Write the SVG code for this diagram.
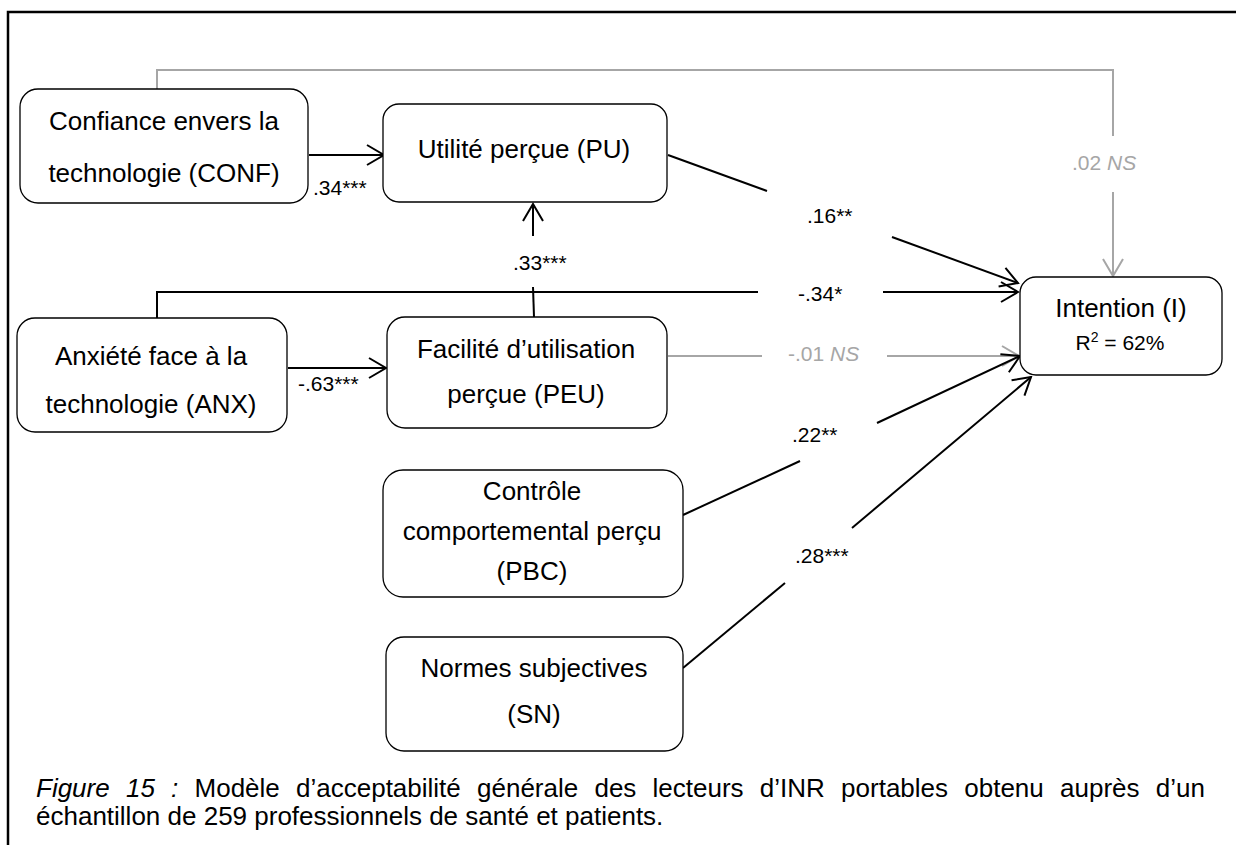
<svg xmlns="http://www.w3.org/2000/svg" width="1236" height="845" viewBox="0 0 1236 845">
<style>
.box{fill:#fff;stroke:#000;stroke-width:1.3}
.nt{font-family:"Liberation Sans",Arial,sans-serif;font-size:26px;fill:#000;text-anchor:middle}
.lb{font-family:"Liberation Sans",Arial,sans-serif;font-size:21px;fill:#000}
.lg{font-family:"Liberation Sans",Arial,sans-serif;font-size:21px;fill:#a6a6a6}
.cap{font-family:"Liberation Sans",Arial,sans-serif;font-size:26px;fill:#000}
.c{fill:none;stroke:#000;stroke-width:2}
.g{fill:none;stroke:#a6a6a6;stroke-width:2}
</style>
<defs>
<marker id="ab" markerUnits="userSpaceOnUse" viewBox="0 0 20 22" refX="18" refY="11" markerWidth="20" markerHeight="22" orient="auto">
<path d="M1,1 L18,11 L1,21" fill="none" stroke="#000" stroke-width="2"/>
</marker>
<marker id="ag" markerUnits="userSpaceOnUse" viewBox="0 0 20 22" refX="18" refY="11" markerWidth="20" markerHeight="22" orient="auto">
<path d="M1,1 L18,11 L1,21" fill="none" stroke="#a6a6a6" stroke-width="2"/>
</marker>
</defs>
<rect width="1236" height="845" fill="#fff"/>
<path d="M8,845 L8,12 L1236,12" fill="none" stroke="#000" stroke-width="2.5"/>

<g id="connectors">
<path class="g" d="M157,89 L157,70 L1113,70 L1113,136"/>
<path class="g" d="M1113,192 L1113,276" marker-end="url(#ag)"/>
<text class="lg" x="1072" y="170">.02 <tspan font-style="italic">NS</tspan></text>

<path class="c" d="M309,155 L384,155" marker-end="url(#ab)"/>
<text class="lb" x="313" y="195">.34***</text>

<path class="c" d="M533,236 L533,204" marker-end="url(#ab)"/>
<text class="lb" x="513" y="270">.33***</text>
<path class="c" d="M533,287 L534,317"/>

<path class="c" d="M288,368 L386,368" marker-end="url(#ab)"/>
<text class="lb" x="298" y="391">-.63***</text>

<path class="c" d="M668,155 L767,191"/>
<text class="lb" x="807" y="223">.16**</text>
<path class="c" d="M892,237 L1018,283" marker-end="url(#ab)"/>

<path class="c" d="M157,318 L157,292 L758,292"/>
<text class="lb" x="798" y="301">-.34*</text>
<path class="c" d="M883,292 L1018,292" marker-end="url(#ab)"/>

<path class="g" d="M668,356 L762,356"/>
<text class="lg" x="788" y="361">-.01 <tspan font-style="italic">NS</tspan></text>
<path class="g" d="M887,356 L1019,356" marker-end="url(#ag)"/>

<path class="c" d="M683,515 L800,461"/>
<text class="lb" x="792" y="442">.22**</text>
<path class="c" d="M877,423 L1020,356" marker-end="url(#ab)"/>

<path class="c" d="M683,668 L785,583"/>
<text class="lb" x="795" y="563">.28***</text>
<path class="c" d="M852,528 L1031,377" marker-end="url(#ab)"/>
</g>

<g id="CONF">
<rect class="box" x="20" y="89" width="288" height="114" rx="18"/>
<text class="nt" x="164" y="130">Confiance envers la</text>
<text class="nt" x="164" y="182">technologie (CONF)</text>
</g>
<g id="PU">
<rect class="box" x="383" y="104" width="284" height="98" rx="16"/>
<text class="nt" x="524" y="158">Utilité perçue (PU)</text>
</g>
<g id="ANX">
<rect class="box" x="17" y="318" width="270" height="114" rx="18"/>
<text class="nt" x="151" y="365">Anxiété face à la</text>
<text class="nt" x="151" y="413">technologie (ANX)</text>
</g>
<g id="PEU">
<rect class="box" x="387" y="317" width="280" height="111" rx="18"/>
<text class="nt" x="526" y="358">Facilité d’utilisation</text>
<text class="nt" x="526" y="403">perçue (PEU)</text>
</g>
<g id="PBC">
<rect class="box" x="383" y="470" width="300" height="127" rx="20"/>
<text class="nt" x="532" y="500">Contrôle</text>
<text class="nt" x="532" y="540">comportemental perçu</text>
<text class="nt" x="532" y="580">(PBC)</text>
</g>
<g id="SN">
<rect class="box" x="386" y="637" width="297" height="114" rx="18"/>
<text class="nt" x="534" y="677">Normes subjectives</text>
<text class="nt" x="534" y="723">(SN)</text>
</g>
<g id="I">
<rect class="box" x="1020" y="277" width="202" height="98" rx="16"/>
<text class="nt" x="1121" y="317">Intention (I)</text>
<text class="lb" x="1120" y="350" text-anchor="middle">R<tspan font-size="14" dy="-8">2</tspan><tspan dy="8"> = 62%</tspan></text>
</g>

<g id="caption">
<text class="cap" x="36" y="797" word-spacing="9"><tspan font-style="italic">Figure 15 :</tspan> Modèle d’acceptabilité générale des lecteurs d’INR portables obtenu auprès d’un</text>
<text class="cap" x="36" y="825">échantillon de 259 professionnels de santé et patients.</text>
</g>
</svg>
